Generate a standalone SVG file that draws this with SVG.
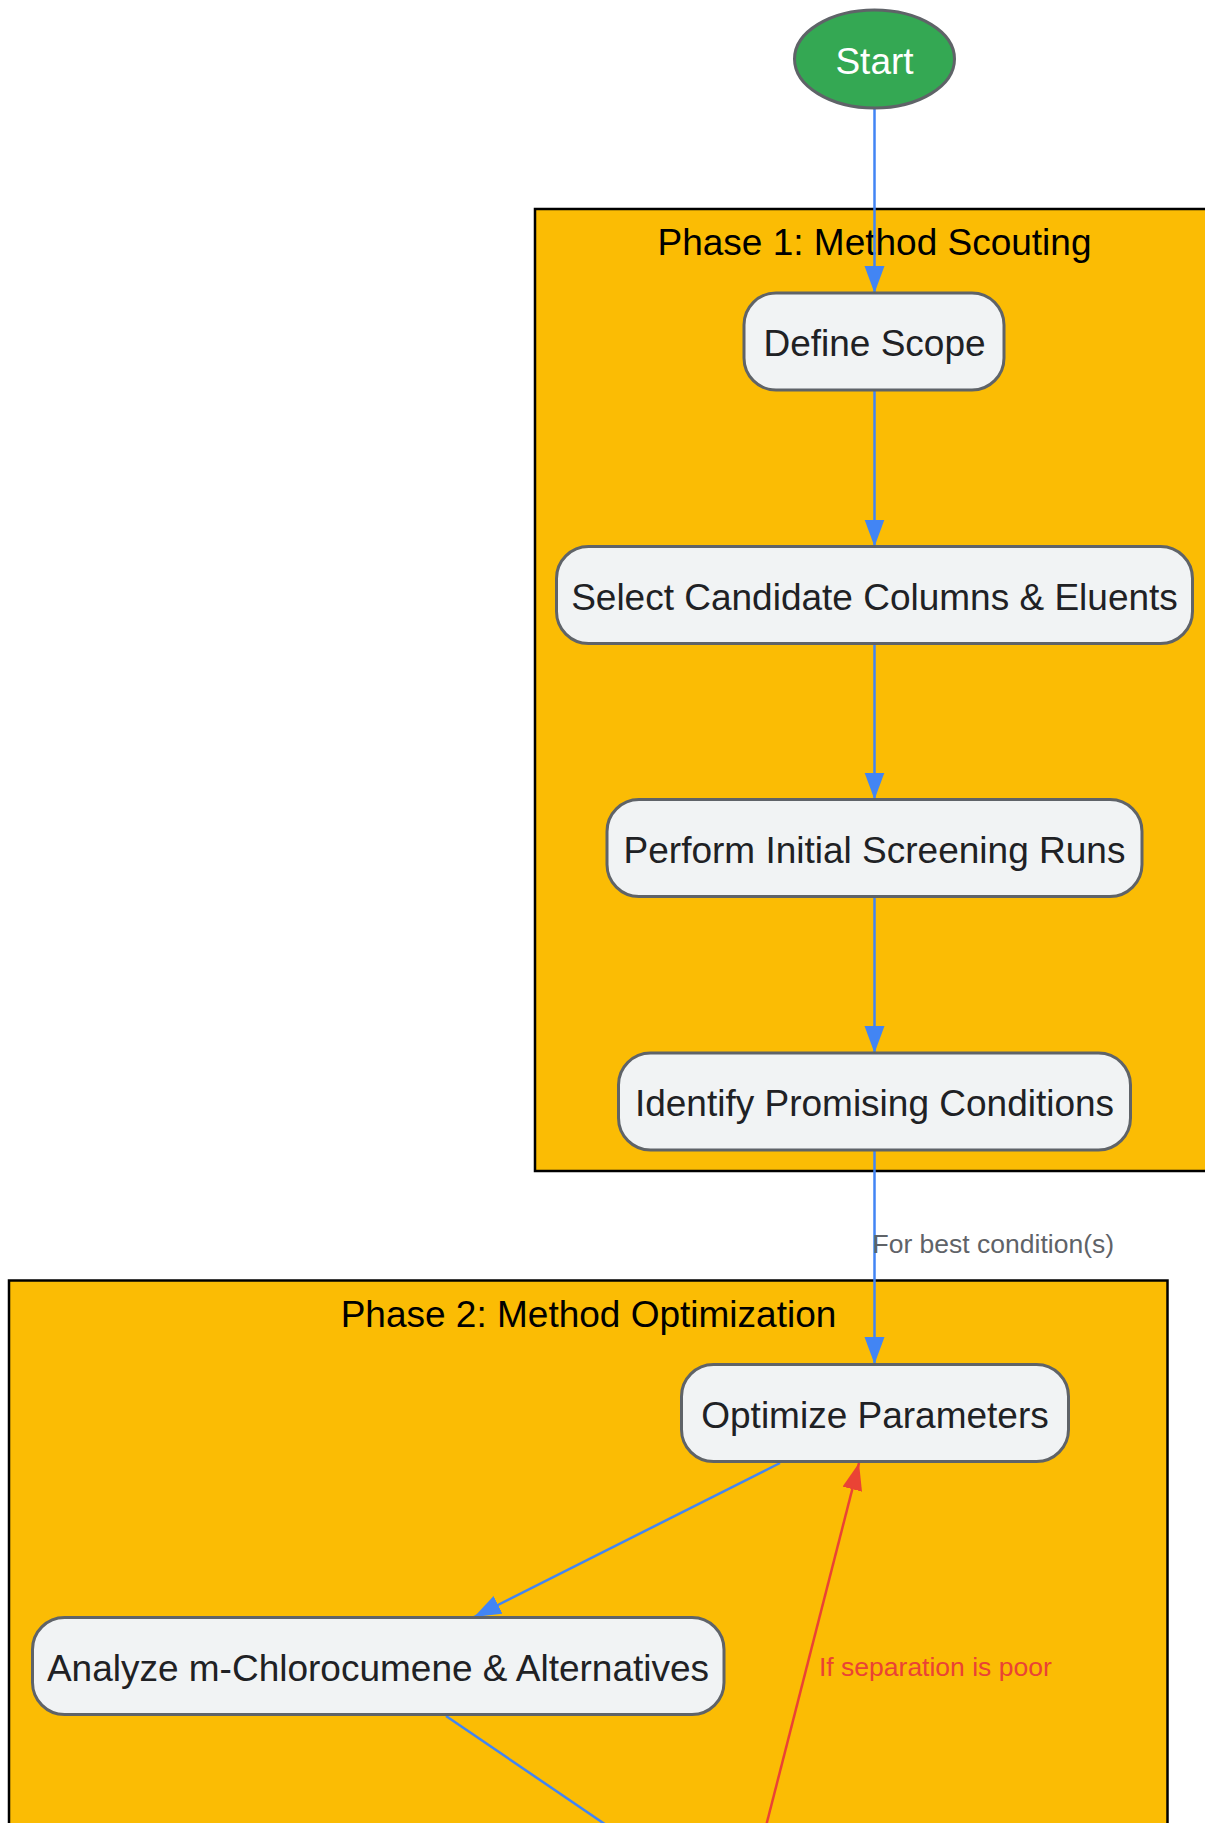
<svg xmlns="http://www.w3.org/2000/svg" width="1205" height="1823" viewBox="0 0 1205 1823">
<defs>
<style>
.cluster{fill:#fbbc04;stroke:#000;stroke-width:2.5}
.ctitle{font-family:"Liberation Sans",Arial,sans-serif;font-size:37px;fill:#000;text-anchor:middle}
.node{fill:#f1f3f4;stroke:#5f6368;stroke-width:3}
.ntext{font-family:"Liberation Sans",Arial,sans-serif;font-size:37px;fill:#202124;text-anchor:middle}
.e-blue{stroke:#4285f4;stroke-width:2.5;fill:none}
.e-red{stroke:#ea4335;stroke-width:2.5;fill:none}
.lbl{font-family:"Liberation Sans",Arial,sans-serif;font-size:26.5px}
</style>
<marker id="ab" markerUnits="userSpaceOnUse" markerWidth="28" markerHeight="21" refX="27" refY="10" orient="auto"><path d="M0,0 L27,10 L0,20 z" fill="#4285f4"/></marker>
<marker id="ar" markerUnits="userSpaceOnUse" markerWidth="28" markerHeight="21" refX="27" refY="10" orient="auto"><path d="M0,0 L27,10 L0,20 z" fill="#ea4335"/></marker>
</defs>
<rect width="1205" height="1823" fill="#fff"/>
<g id="phase1">
<rect class="cluster" x="535" y="209" width="690" height="962"/>
<text class="ctitle" x="874.5" y="255">Phase 1: Method Scouting</text>
</g>
<g id="phase2">
<rect class="cluster" x="9" y="1280.5" width="1158.5" height="600"/>
<text class="ctitle" x="588.5" y="1326.5">Phase 2: Method Optimization</text>
</g>
<g id="connectors">
<line class="e-blue" x1="874.5" y1="108" x2="874.5" y2="293" marker-end="url(#ab)"/>
<line class="e-blue" x1="874.5" y1="390" x2="874.5" y2="546.5" marker-end="url(#ab)"/>
<line class="e-blue" x1="874.5" y1="643.5" x2="874.5" y2="799.5" marker-end="url(#ab)"/>
<line class="e-blue" x1="874.5" y1="896.5" x2="874.5" y2="1053" marker-end="url(#ab)"/>
<line class="e-blue" x1="874.5" y1="1150" x2="874.5" y2="1364" marker-end="url(#ab)"/>
<text class="lbl" x="872.5" y="1253" fill="#5f6368">For best condition(s)</text>
<line class="e-blue" x1="780" y1="1463" x2="474" y2="1617" marker-end="url(#ab)"/>
<line class="e-blue" x1="446" y1="1716" x2="612" y2="1829"/>
<line class="e-red" x1="765" y1="1830" x2="859" y2="1463" marker-end="url(#ar)"/>
<text class="lbl" x="819" y="1676" fill="#ea4335">If separation is poor</text>
</g>
<g id="start">
<ellipse cx="874.5" cy="59" rx="80" ry="49" fill="#34a853" stroke="#5f6368" stroke-width="3"/>
<text class="ntext" x="874.5" y="74" style="fill:#fff">Start</text>
</g>
<g id="define-scope">
<rect class="node" x="744" y="293" width="260" height="97" rx="32"/>
<text class="ntext" x="874.5" y="356">Define Scope</text>
</g>
<g id="select-candidates">
<rect class="node" x="556.5" y="546.5" width="636" height="97" rx="32"/>
<text class="ntext" x="874.5" y="609.5">Select Candidate Columns &amp; Eluents</text>
</g>
<g id="initial-screening">
<rect class="node" x="607" y="799.5" width="535" height="97" rx="32"/>
<text class="ntext" x="874.5" y="862.5">Perform Initial Screening Runs</text>
</g>
<g id="identify-conditions">
<rect class="node" x="618.5" y="1053" width="512" height="97" rx="32"/>
<text class="ntext" x="874.5" y="1116">Identify Promising Conditions</text>
</g>
<g id="optimize-parameters">
<rect class="node" x="681.5" y="1364.5" width="387" height="97" rx="32"/>
<text class="ntext" x="875" y="1427.5">Optimize Parameters</text>
</g>
<g id="analyze">
<rect class="node" x="32.5" y="1617.5" width="691.5" height="97" rx="32"/>
<text class="ntext" x="378" y="1680.5">Analyze m-Chlorocumene &amp; Alternatives</text>
</g>
</svg>
